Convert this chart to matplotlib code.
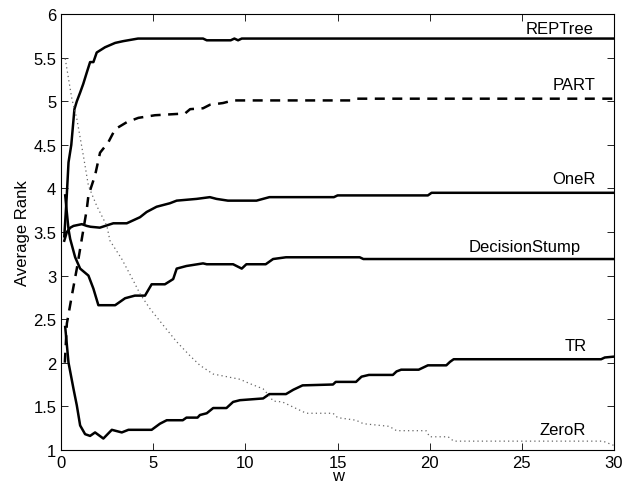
import matplotlib
matplotlib.use('Agg')
import matplotlib.pyplot as plt

plt.rcParams['font.family'] = ['Liberation Sans', 'DejaVu Sans']

# curves (w, average rank)
reptree_w = [0.17, 0.3, 0.4, 0.55, 0.72, 0.85, 1.03, 1.2, 1.39, 1.57, 1.75, 1.93, 2.38,
             2.93, 3.36, 4.17, 7.7, 7.9, 9.2, 9.4, 9.6, 9.8, 30]
reptree_r = [3.45, 3.9, 4.3, 4.5, 4.91, 5.0, 5.1, 5.2, 5.33, 5.45, 5.45, 5.56, 5.62,
             5.67, 5.69, 5.72, 5.72, 5.70, 5.70, 5.72, 5.70, 5.72, 5.72]

part_w = [0.2, 0.31, 0.58, 0.85, 1.12, 1.39, 1.48, 1.84, 2.11, 2.56, 2.93, 3.56, 4.19,
          5.09, 6.72, 7.0, 7.7, 8.07, 8.78, 9.33, 15.7, 15.9, 30]
part_r = [2.0, 2.45, 2.77, 3.08, 3.42, 3.76, 3.92, 4.15, 4.41, 4.53, 4.68, 4.76, 4.81,
          4.84, 4.86, 4.91, 4.92, 4.96, 4.98, 5.01, 5.01, 5.03, 5.03]

oner_w = [0.17, 0.31, 0.5, 0.67, 1.12, 1.39, 1.6, 2.1, 2.83, 3.56, 4.28, 4.64, 5.18,
          5.9, 6.27, 7.35, 8.07, 8.43, 9.05, 10.6, 11.3, 14.8, 15.0, 19.9, 20.1, 30]
oner_r = [3.4, 3.5, 3.55, 3.57, 3.59, 3.57, 3.56, 3.55, 3.6, 3.6, 3.67, 3.73, 3.79,
          3.83, 3.86, 3.88, 3.9, 3.88, 3.86, 3.86, 3.9, 3.9, 3.92, 3.92, 3.95, 3.95]

stump_w = [0.22, 0.31, 0.4, 0.49, 0.76, 1.03, 1.48, 1.75, 2.02, 2.93, 3.47, 4.0, 4.55,
           4.91, 5.63, 6.08, 6.27, 6.8, 7.7, 7.9, 9.33, 9.8, 10.05, 11.1, 11.5, 12.2,
           16.2, 16.4, 30]
stump_r = [3.92, 3.72, 3.53, 3.42, 3.21, 3.08, 3.0, 2.85, 2.66, 2.66, 2.74, 2.77, 2.77,
           2.9, 2.9, 2.96, 3.08, 3.11, 3.14, 3.13, 3.13, 3.08, 3.13, 3.13, 3.19, 3.21,
           3.21, 3.19, 3.19]

tr_w = [0.22, 0.4, 0.67, 0.85, 1.03, 1.3, 1.57, 1.84, 2.29, 2.75, 3.29, 3.65, 4.91,
        5.36, 5.73, 6.6, 6.8, 7.4, 7.53, 7.9, 8.25, 8.97, 9.33, 9.7, 10.96, 11.3, 12.2,
        12.6, 13.1, 14.75, 14.9, 16.0, 16.3, 16.7, 18.0, 18.2, 18.45, 19.4, 19.9, 20.9,
        21.1, 21.3, 29.3, 29.5, 30]
tr_r = [2.41, 2.0, 1.7, 1.51, 1.28, 1.18, 1.16, 1.2, 1.13, 1.23, 1.2, 1.23, 1.23,
        1.3, 1.34, 1.34, 1.37, 1.37, 1.4, 1.42, 1.48, 1.48, 1.55, 1.57, 1.59, 1.64, 1.64,
        1.69, 1.74, 1.75, 1.78, 1.78, 1.84, 1.86, 1.86, 1.9, 1.92, 1.92, 1.97, 1.97,
        2.01, 2.04, 2.04, 2.06, 2.07]

zeror_w = [0.22, 0.58, 0.85, 1.21, 1.48, 1.93, 2.48, 2.65, 3.29, 3.92, 4.28, 4.82, 5.54,
           6.27, 6.99, 7.53, 8.25, 8.98, 9.7, 10.24, 10.96, 11.3, 11.5, 12.0, 12.8, 13.3,
           14.75, 15.0, 16.0, 16.4, 17.8, 18.2, 19.8, 20.0, 21.0, 21.3, 29.4, 30]
zeror_r = [5.49, 5.03, 4.8, 4.37, 4.03, 3.8, 3.57, 3.4, 3.19, 2.94, 2.79, 2.62, 2.43,
           2.24, 2.08, 1.97, 1.87, 1.84, 1.81, 1.76, 1.7, 1.62, 1.56, 1.55, 1.47, 1.42,
           1.42, 1.37, 1.34, 1.3, 1.27, 1.22, 1.22, 1.15, 1.15, 1.1, 1.1, 1.05]

names = ['REPTree', 'PART', 'OneR', 'DecisionStump', 'TR', 'ZeroR']
label_x = [28.9, 29.0, 29.0, 28.2, 28.5, 28.5]
label_y = [5.83, 5.19, 4.11, 3.33, 2.2, 1.23]

fig = plt.figure(figsize=(6.24, 4.89), dpi=100)
ax = fig.add_axes([0.098, 0.078, 0.886, 0.891])

ax.plot(reptree_w, reptree_r, color='black', lw=1.8)
ax.plot(part_w, part_r, color='black', lw=1.8, ls=(0, (4, 3)))
ax.plot(oner_w, oner_r, color='black', lw=1.8)
ax.plot(stump_w, stump_r, color='black', lw=1.8)
ax.plot(tr_w, tr_r, color='black', lw=1.8)
ax.plot(zeror_w, zeror_r, color='#666666', lw=0.9, ls=(0, (1, 2.5)))

for name, lx, ly in zip(names, label_x, label_y):
    ax.text(lx, ly, name, ha='right', va='center', fontsize=12)

ax.set_xlim(0, 30)
ax.set_ylim(1, 6)
ax.set_xticks(range(0, 31, 5))
ax.set_yticks([1, 1.5, 2, 2.5, 3, 3.5, 4, 4.5, 5, 5.5, 6])
ax.set_yticklabels(['1', '1.5', '2', '2.5', '3', '3.5', '4', '4.5', '5', '5.5', '6'])
ax.tick_params(direction='in', top=True, right=True, labelsize=12, length=5, width=0.6)
for sp in ax.spines.values():
    sp.set_linewidth(0.8)
ax.set_xlabel('w', fontsize=12, labelpad=-1)
ax.set_ylabel('Average Rank', fontsize=12, labelpad=2)

fig.savefig('out.png', dpi=100)
